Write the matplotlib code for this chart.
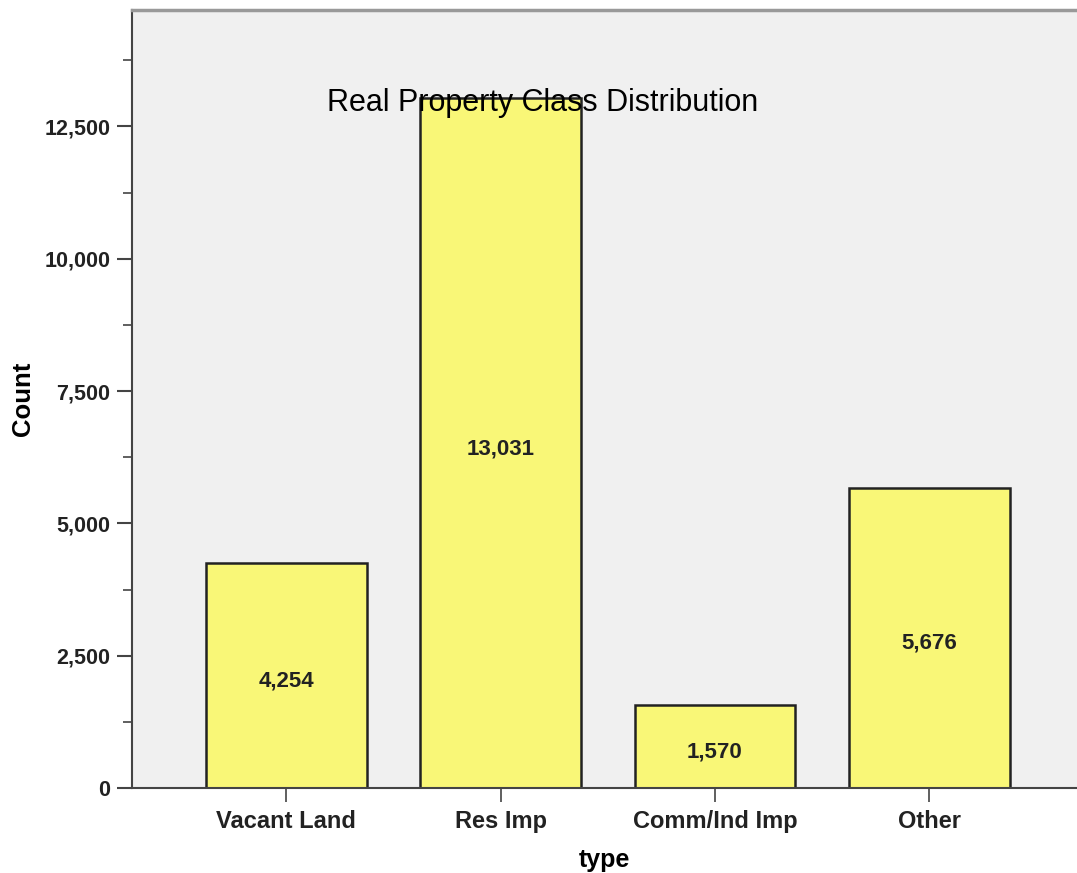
import numpy as np
import matplotlib.pyplot as plt
from matplotlib.ticker import MultipleLocator, FuncFormatter

categories = ["Vacant Land", "Res Imp", "Comm/Ind Imp", "Other"]
counts = [4254, 13031, 1570, 5676]

plt.rcParams['font.family'] = ['Liberation Sans', 'DejaVu Sans']

fig = plt.figure(figsize=(10.77, 8.73), dpi=100)
ax = fig.add_axes([132/1077, 1 - 788/873, 1 - 132/1077, (788 - 10)/873])
ax.set_facecolor("#f0f0f0")

x = np.arange(len(categories))
ax.bar(x, counts, width=0.75, color="#f9f777", edgecolor="#222222", linewidth=1.8, zorder=2)

for xi, c in zip(x, counts):
    ax.annotate(format(c, ","), (xi, c / 2), xytext=(0, -4), textcoords="offset points",
                ha="center", va="center", fontsize=16, fontweight="bold",
                color="#222222", zorder=3)

ax.set_xlim(-0.72, 3.69)
ax.set_ylim(0, 14700)
ax.yaxis.set_major_locator(MultipleLocator(2500))
ax.yaxis.set_minor_locator(MultipleLocator(1250))
ax.yaxis.set_major_formatter(FuncFormatter(lambda v, p: format(int(v), ",")))

ax.set_xticks(x)
ax.set_xticklabels(categories)
ax.tick_params(axis="y", which="major", length=10.5, width=1.5, color="#444444",
               labelsize=15.5, pad=5)
ax.tick_params(axis="y", which="minor", length=6.5, width=1.2, color="#444444")
ax.tick_params(axis="x", length=10, width=1.2, color="#444444", labelsize=17, pad=6)
for lab in ax.get_xticklabels() + ax.get_yticklabels():
    lab.set_fontweight("bold")
    lab.set_color("#222222")

ax.spines["right"].set_visible(False)
ax.spines["top"].set_color("#999999")
ax.spines["top"].set_linewidth(2.5)
ax.spines["left"].set_color("#444444")
ax.spines["left"].set_linewidth(1.5)
ax.spines["bottom"].set_color("#444444")
ax.spines["bottom"].set_linewidth(1.5)

ax.set_ylabel("Count", fontsize=18.5, fontweight="bold", labelpad=7)
ax.set_xlabel("type", fontsize=18, fontweight="bold", labelpad=11)

ax.text(0.435, 0.88, "Real Property Class Distribution", transform=ax.transAxes,
        ha="center", va="center", fontsize=22, color="black", zorder=4)

plt.savefig("out.png", dpi=100)
